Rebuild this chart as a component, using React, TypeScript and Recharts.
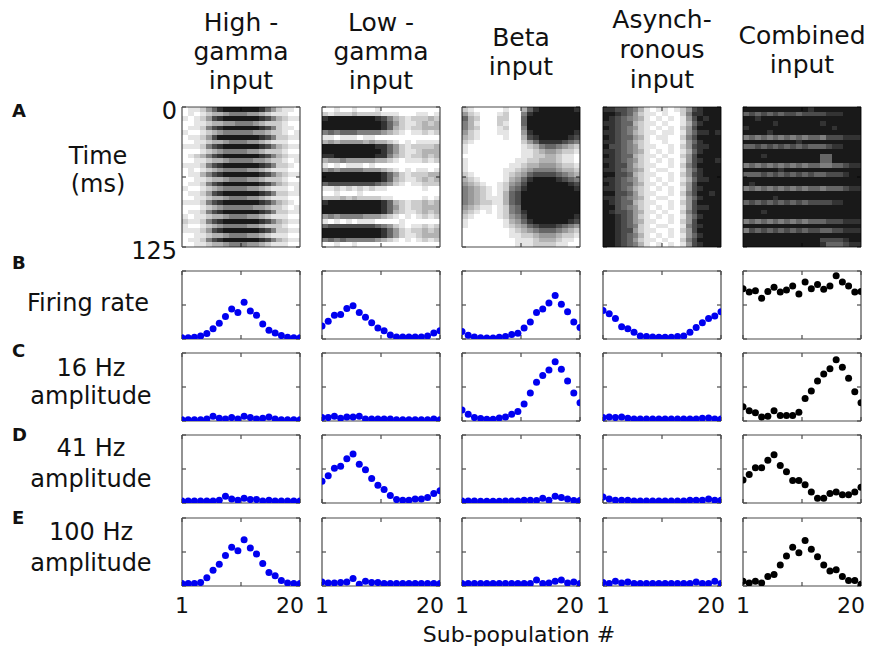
import React from "react";
import { ScatterChart, Scatter, XAxis, YAxis } from "recharts";

// sub-population index (x axis of every panel)
const subPops = [1, 2, 3, 4, 5, 6, 7, 8, 9, 10, 11, 12, 13, 14, 15, 16, 17, 18, 19, 20];

// B - firing rate (normalised to panel height)
const rateHG = [0.02, 0.02, 0.025, 0.045, 0.08, 0.15, 0.23, 0.33, 0.44, 0.39, 0.54, 0.41, 0.35, 0.22, 0.13, 0.09, 0.05, 0.025, 0.02, 0.02];
const rateLG = [0.19, 0.26, 0.35, 0.36, 0.45, 0.49, 0.39, 0.32, 0.24, 0.16, 0.12, 0.06, 0.03, 0.03, 0.03, 0.03, 0.03, 0.045, 0.09, 0.12];
const rateBeta = [0.11, 0.055, 0.03, 0.02, 0.015, 0.015, 0.025, 0.035, 0.065, 0.085, 0.16, 0.25, 0.39, 0.44, 0.53, 0.64, 0.51, 0.4, 0.25, 0.17];
const rateAsync = [0.42, 0.37, 0.3, 0.18, 0.15, 0.1, 0.045, 0.035, 0.03, 0.025, 0.025, 0.025, 0.035, 0.045, 0.1, 0.17, 0.24, 0.3, 0.34, 0.4];
const rateComb = [0.74, 0.69, 0.71, 0.6, 0.7, 0.76, 0.69, 0.72, 0.78, 0.66, 0.84, 0.74, 0.8, 0.73, 0.78, 0.93, 0.84, 0.78, 0.69, 0.7];

// C - 16 Hz amplitude
const amp16HG = [0.02, 0.02, 0.02, 0.02, 0.03, 0.07, 0.04, 0.03, 0.05, 0.03, 0.07, 0.05, 0.03, 0.04, 0.06, 0.03, 0.02, 0.02, 0.02, 0.02];
const amp16LG = [0.05, 0.05, 0.07, 0.04, 0.06, 0.06, 0.07, 0.03, 0.03, 0.03, 0.03, 0.03, 0.02, 0.02, 0.02, 0.02, 0.02, 0.02, 0.03, 0.02];
const amp16Beta = [0.16, 0.1, 0.05, 0.035, 0.025, 0.025, 0.045, 0.06, 0.1, 0.14, 0.25, 0.41, 0.57, 0.67, 0.75, 0.87, 0.76, 0.59, 0.41, 0.27];
const amp16Async = [0.05, 0.06, 0.05, 0.06, 0.04, 0.03, 0.03, 0.03, 0.03, 0.03, 0.03, 0.03, 0.03, 0.03, 0.03, 0.03, 0.04, 0.045, 0.03, 0.03];
const amp16Comb = [0.21, 0.15, 0.12, 0.06, 0.07, 0.15, 0.08, 0.08, 0.08, 0.13, 0.33, 0.44, 0.59, 0.69, 0.77, 0.9, 0.79, 0.63, 0.43, 0.27];

// D - 41 Hz amplitude
const amp41HG = [0.03, 0.03, 0.03, 0.03, 0.03, 0.03, 0.04, 0.1, 0.06, 0.04, 0.07, 0.05, 0.05, 0.03, 0.04, 0.03, 0.03, 0.03, 0.03, 0.03];
const amp41LG = [0.32, 0.4, 0.51, 0.54, 0.65, 0.72, 0.57, 0.49, 0.36, 0.26, 0.2, 0.11, 0.05, 0.04, 0.04, 0.06, 0.06, 0.08, 0.14, 0.18];
const amp41Beta = [0.03, 0.03, 0.03, 0.025, 0.025, 0.025, 0.025, 0.03, 0.03, 0.03, 0.04, 0.04, 0.035, 0.07, 0.04, 0.1, 0.08, 0.06, 0.035, 0.035];
const amp41Async = [0.09, 0.06, 0.04, 0.04, 0.04, 0.03, 0.03, 0.03, 0.03, 0.03, 0.03, 0.03, 0.03, 0.03, 0.04, 0.04, 0.04, 0.06, 0.04, 0.04];
const amp41Comb = [0.34, 0.42, 0.52, 0.52, 0.63, 0.71, 0.55, 0.46, 0.33, 0.33, 0.27, 0.16, 0.07, 0.07, 0.14, 0.16, 0.12, 0.12, 0.16, 0.23];

// E - 100 Hz amplitude
const amp100HG = [0.035, 0.035, 0.035, 0.05, 0.12, 0.23, 0.32, 0.45, 0.57, 0.52, 0.68, 0.56, 0.47, 0.33, 0.2, 0.15, 0.08, 0.045, 0.035, 0.035];
const amp100LG = [0.06, 0.045, 0.045, 0.05, 0.06, 0.11, 0.025, 0.07, 0.05, 0.05, 0.035, 0.035, 0.035, 0.035, 0.035, 0.035, 0.035, 0.035, 0.035, 0.035];
const amp100Beta = [0.035, 0.035, 0.035, 0.035, 0.035, 0.035, 0.035, 0.035, 0.035, 0.035, 0.035, 0.035, 0.09, 0.035, 0.045, 0.07, 0.09, 0.045, 0.06, 0.035];
const amp100Async = [0.05, 0.035, 0.07, 0.045, 0.06, 0.035, 0.035, 0.035, 0.035, 0.035, 0.035, 0.035, 0.035, 0.035, 0.035, 0.06, 0.035, 0.035, 0.07, 0.035];
const amp100Comb = [0.07, 0.045, 0.07, 0.045, 0.14, 0.17, 0.31, 0.44, 0.57, 0.49, 0.67, 0.54, 0.43, 0.31, 0.22, 0.24, 0.14, 0.08, 0.08, 0.025];

// A - spike density, one string per time bin (30 bins over 125 ms), one digit per sub-population
const rasterHG = [
  "01124689999998642110", "01012334555443211100", "10124789999998753211", "00112334455543222100",
  "01125789999998752110", "10012345555544322101", "01124799999998752211", "00112334555443211100",
  "11125789999998753211", "00012345555443222100", "01235789999998753211", "00112334555544322101",
  "11125789999998752210", "01012345555443211100", "01135789999998753211", "00112334555443222100",
  "01125789999998753211", "10012345555443211101", "01124789999998752211", "00112334555443211100",
  "11125789999998753210", "00012345555544322101", "01125789999998752211", "10112334555443211100",
  "21125789999998753211", "10012345555443222100", "11124789999998752211", "00112334555443211100",
  "01125789999998753211", "00112334555443211100",
];
const rasterLG = [
  "00100100010000000000", "21222322221110001101", "89999999987532122232", "99999999998642112323",
  "99999999998632122333", "56566655554321011212", "11011101100000000000", "34344443433210101111",
  "99999999988642122223", "99999999998642112333", "88999999988532122323", "34454444433210111212",
  "10101110100000000000", "45455554443210101101", "99999999998642122233", "99999999998632112323",
  "67777777765421011222", "11212121211000000100", "00100010000000000000", "22232322221100000101",
  "89999999998632122323", "99999999998642122333", "99999999998632112323", "45455554443210101212",
  "10101011100001000000", "67777777765421011212", "99999999998642122323", "99999999998642112333",
  "56565555543210101212", "00100100000000000000",
];
const rasterBeta = [
  "21000001003689999998", "42100012005899999999", "63200022006999999999", "53100021006999999999",
  "53200012005999999999", "42100011004899999998", "32100001003789999987", "21000000002468888765",
  "10000000001235665432", "10000000001123443221", "00000000001122332110", "10000000011223332110",
  "10000000112334443221", "10000001123455554332", "21000001234677776543", "32100001346899998765",
  "43210012457999999987", "54321012568999999998", "54321013679999999999", "54321113679999999999",
  "54322113679999999999", "43211012569999999999", "32101012568999999999", "21000012457999999998",
  "10000001346899999987", "10000001234678887654", "00000000123456665432", "00000000112234443221",
  "00000000011123332110", "00000000011122221100",
];
const rasterAsync = [
  "88776531011012478999", "99876421101002588999", "98765431010101479899", "88766321101001368999",
  "98765421010102479999", "88765321101101468898", "98766431011002579999", "88765321001001468999",
  "97765421100102478899", "88765431010101368999", "98766321101002479999", "88765421010101478998",
  "98775321100102579999", "88765431011001468999", "99776321100102478999", "88765421010101368899",
  "98766431101002479999", "88765321010101478999", "99776421100102579989", "88765431011001468999",
  "98766321100102479999", "99765421010101478899", "98776431101002579999", "99876421010101468999",
  "99876431100102479999", "99876521011001578999", "99877421100102479999", "99876531010101468999",
  "99876421101002579999", "99876531010101478999",
];
const rasterComb = [
  "99999999999899999999", "67676767767777888999", "99899999999999999999", "99999899999998999999",
  "89999999999999989999", "99998999999999999999", "56565656565665777888", "99999999989999999999",
  "66767676767666788999", "99999999999999999999", "99989999999996699999", "99999999999996699999",
  "56565656565665566788", "99999989999999999999", "66676767676766777899", "99999999999999999999",
  "98999999999999999999", "56565656565665666788", "99999999999999999999", "99999899999999999999",
  "67676767676777788999", "99999999999999999999", "99989999999999999999", "99999999999999999999",
  "56565656565666777888", "99999999999999999999", "57676767676776677888", "99999999999999999999",
  "99999999999997777899", "99999999999998666788",
];

const titles = [
  ["High -", "gamma", "input"],
  ["Low -", "gamma", "input"],
  ["Beta", "input"],
  ["Asynch-", "ronous", "input"],
  ["Combined", "input"],
];
const rowLabels = [
  { letter: "A", lines: ["Time", "(ms)"] },
  { letter: "B", lines: ["Firing rate"] },
  { letter: "C", lines: ["16 Hz", "amplitude"] },
  { letter: "D", lines: ["41 Hz", "amplitude"] },
  { letter: "E", lines: ["100 Hz", "amplitude"] },
];

const FONT = "DejaVu Sans";
const FRAME = "#4a4a4a";
const BLUE = "#0000f0";
const W = 118;
const colX = [182, 322, 462, 603, 743];
const rasterTop = 107;
const rasterH = 140;
const rowTops = [271, 353, 435, 518];
const rowH = 68;
const PAD = 10;
const MS = 125;
const NBINS = 30;
const AX = 1; // size reserved by each axis

const noTick = () => <g />;

const BottomTick = (props: any) => {
  const { x, y, payload } = props;
  if (payload.value === 1)
    return (
      <text x={x} y={y + 27} textAnchor="middle" fontSize={22} fontFamily={FONT} fill="#111">
        1
      </text>
    );
  if (payload.value === 20)
    return (
      <text x={x + 4} y={y + 27} textAnchor="end" fontSize={22} fontFamily={FONT} fill="#111">
        20
      </text>
    );
  return <g />;
};

const TimeTick = (props: any) => {
  const { x, y, payload } = props;
  if (payload.value === 62.5) return <g />;
  return (
    <text x={x - 5} y={y + 12} textAnchor="end" fontSize={24} fontFamily={FONT} fill="#111">
      {payload.value}
    </text>
  );
};

const frameAxes = (xDomain: number[], xTicks: number[], yDomain: number[], yTicks: number[], reversed: boolean, bottomTick: any, leftTick: any) => [
  <XAxis key="b" xAxisId="b" type="number" dataKey="x" domain={xDomain} ticks={xTicks} interval={0} height={AX} tickSize={-4} tickMargin={4} stroke={FRAME} strokeWidth={1.2} tick={bottomTick} allowDataOverflow />,
  <XAxis key="t" xAxisId="t" orientation="top" type="number" dataKey="x" domain={xDomain} ticks={xTicks} interval={0} height={AX} tickSize={-4} stroke={FRAME} strokeWidth={1.2} tick={noTick} allowDataOverflow />,
  <YAxis key="l" yAxisId="l" type="number" dataKey="y" domain={yDomain} ticks={yTicks} interval={0} width={AX} reversed={reversed} tickSize={-4} tickMargin={4} stroke={FRAME} strokeWidth={1.2} tick={leftTick} allowDataOverflow />,
  <YAxis key="r" yAxisId="r" orientation="right" type="number" dataKey="y" domain={yDomain} ticks={yTicks} interval={0} width={AX} reversed={reversed} tickSize={-4} stroke={FRAME} strokeWidth={1.2} tick={noTick} allowDataOverflow />,
];

function RasterPanel({ grid, left, first }: { grid: string[]; left: number; first: boolean }) {
  const data: { x: number; y: number; d: number }[] = [];
  grid.forEach((row, r) =>
    row.split("").forEach((ch, c) => {
      const d = Number(ch);
      if (d > 0) data.push({ x: subPops[c], y: ((r + 0.5) * MS) / NBINS, d });
    })
  );
  const cw = W / subPops.length;
  const chh = rasterH / NBINS;
  const padL = first ? 60 : 4;
  const padT = 12;
  const padB = first ? 22 : 8;
  const padR = 4;
  return (
    <div style={{ position: "absolute", left: left - padL, top: rasterTop - padT }}>
      <ScatterChart
        width={W + padL + padR}
        height={rasterH + padT + padB}
        margin={{ top: padT - AX, right: padR - AX, bottom: padB - AX, left: padL - AX }}
      >
        {frameAxes([0.5, 20.5], [10.5], [0, MS], [0, 62.5, MS], true, noTick, first ? TimeTick : noTick)}
        <Scatter
          xAxisId="b"
          yAxisId="l"
          data={data}
          isAnimationActive={false}
          shape={(p: any) => (
            <rect x={p.cx - cw / 2} y={p.cy - chh / 2} width={cw} height={chh} fill="#000" fillOpacity={p.payload.d / 10} shapeRendering="crispEdges" />
          )}
        />
        {/* second pair of axes needs a series to be drawn */}
        <Scatter xAxisId="t" yAxisId="r" data={[]} isAnimationActive={false} />
      </ScatterChart>
    </div>
  );
}

function DotPanel({ values, color, left, top, labels }: { values: number[]; color: string; left: number; top: number; labels: boolean }) {
  const data = values.map((v, i) => ({ x: subPops[i], y: v }));
  const bottom = labels ? 36 : PAD;
  return (
    <div style={{ position: "absolute", left: left - PAD, top: top - PAD }}>
      <ScatterChart
        width={W + 2 * PAD}
        height={rowH + PAD + bottom}
        margin={{ top: PAD - AX, right: PAD - AX, bottom: bottom - AX, left: PAD - AX }}
      >
        {frameAxes([1, 20], [1, 10.5, 20], [0, 1], [0, 0.5, 1], false, labels ? BottomTick : noTick, noTick)}
        <Scatter xAxisId="t" yAxisId="r" data={[]} isAnimationActive={false} />
        <Scatter
          xAxisId="b"
          yAxisId="l"
          data={data}
          isAnimationActive={false}
          shape={(p: any) => <circle cx={p.cx} cy={p.cy} r={3.5} fill={color} />}
        />
      </ScatterChart>
    </div>
  );
}

const rasters = [rasterHG, rasterLG, rasterBeta, rasterAsync, rasterComb];
const dotRows = [
  [rateHG, rateLG, rateBeta, rateAsync, rateComb],
  [amp16HG, amp16LG, amp16Beta, amp16Async, amp16Comb],
  [amp41HG, amp41LG, amp41Beta, amp41Async, amp41Comb],
  [amp100HG, amp100LG, amp100Beta, amp100Async, amp100Comb],
];

// text placement
const titleBase: number[][] = [[31, 60, 89], [31, 60, 89], [46, 75], [28, 58, 88], [44, 73]];
const rowLabelPos = [
  { lx: 98, base: [164, 192], ly: 117 },
  { lx: 88, base: [311], ly: 269 },
  { lx: 91, base: [376, 404], ly: 357 },
  { lx: 91, base: [456, 487], ly: 441 },
  { lx: 91, base: [540, 571], ly: 524 },
];

export default function App() {
  return (
    <div style={{ position: "absolute", left: 0, top: 0, width: 872, height: 650, background: "#fff", overflow: "hidden" }}>
      {rasters.map((g, i) => (
        <RasterPanel key={`r${i}`} grid={g} left={colX[i]} first={i === 0} />
      ))}
      {dotRows.map((row, r) =>
        row.map((vals, c) => (
          <DotPanel key={`d${r}-${c}`} values={vals} color={c === 4 ? "#000" : BLUE} left={colX[c]} top={rowTops[r]} labels={r === 3} />
        ))
      )}
      <svg width={872} height={650} style={{ position: "absolute", left: 0, top: 0, pointerEvents: "none" }}>
        <g fontFamily={FONT} fill="#111">
          {titles.map((lines, i) =>
            lines.map((t, j) => (
              <text key={`t${i}-${j}`} x={colX[i] + W / 2} y={titleBase[i][j]} textAnchor="middle" fontSize={25}>
                {t}
              </text>
            ))
          )}
          {rowLabels.map((rl, i) => (
            <g key={`rl${i}`}>
              <text x={12} y={rowLabelPos[i].ly} fontSize={18} fontWeight="bold">
                {rl.letter}
              </text>
              {rl.lines.map((t, j) => (
                <text key={j} x={rowLabelPos[i].lx} y={rowLabelPos[i].base[j]} textAnchor="middle" fontSize={24}>
                  {t}
                </text>
              ))}
            </g>
          ))}
          <text x={519} y={642} textAnchor="middle" fontSize={22}>
            Sub-population #
          </text>
        </g>
      </svg>
    </div>
  );
}
